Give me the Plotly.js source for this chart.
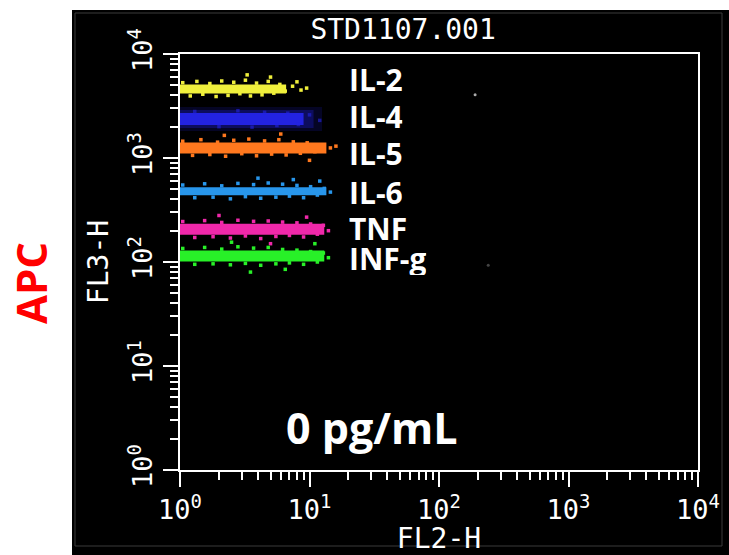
<!DOCTYPE html>
<html>
<head>
<meta charset="utf-8">
<script src="https://cdn.plot.ly/plotly-3.0.1.min.js"></script>
<style>html,body{margin:0;padding:0;background:#fff;}#chart{width:729px;height:555px;}</style>
</head>
<body>
<div id="chart"></div>
<script>
// ---- data ----
var cytokines = ['IL-2', 'IL-4', 'IL-5', 'IL-6', 'TNF', 'INF-g'];
var bandCenter = [4600, 2370, 1250, 480, 207, 114];
var bandStart = [1, 1, 1, 1, 1, 1];
var bandEnd = [6.6, 9.0, 13.5, 13.5, 13, 13];
var blueFadeEnd = 12.5;

var dotsX = [
  [1.05,1.2,1.35,1.5,1.7,1.9,2.1,2.35,2.6,2.9,3.2,3.5,3.9,4.3,4.8,5.3,5.9,6.5,7.4,8.6,3.3,5.0,8.0,9.5],
  [1.3,2.0,2.8,3.6,4.5,5.6,6.8,8.2,10,12],
  [1.05,1.25,1.45,1.7,1.95,2.25,2.6,3.0,3.4,3.9,4.5,5.1,5.8,6.6,7.5,8.5,9.6,11,12.5,14.5,2.2,6.0,10,16],
  [1.05,1.3,1.55,1.8,2.1,2.45,2.8,3.2,3.7,4.2,4.8,5.5,6.2,7.0,8.0,9.0,10.2,11.5,13,14.5,4.0,7.5,12],
  [1.05,1.3,1.55,1.8,2.1,2.45,2.8,3.2,3.7,4.2,4.8,5.5,6.2,7.0,8.0,9.0,10.2,11.5,12.8,14,2.0,5.0,9.5],
  [1.05,1.3,1.55,1.8,2.1,2.45,2.8,3.2,3.7,4.2,4.8,5.5,6.2,7.0,8.0,9.0,10.2,11.5,12.8,14,2.5,6.5,11,3.5]
];
var dotsY = [
  [5300,3950,5450,4100,5200,3900,5500,4000,5350,4150,5600,3950,5250,4050,5450,4200,5100,4400,4900,4500,6300,6000,5400,4700],
  [2800,2000,2850,1980,2750,2050,2700,2100,2600,2300],
  [1450,1060,1500,1080,1420,1040,1480,1100,1520,1050,1460,1090,1500,1070,1430,1110,1400,1150,1330,1250,1650,1700,950,1300],
  [550,415,565,420,540,405,570,425,555,410,575,420,560,430,545,415,530,440,510,470,640,620,600],
  [245,172,250,175,240,170,252,178,246,168,248,176,242,180,238,174,232,185,225,200,280,150,270],
  [135,95,138,96,133,94,140,97,136,93,138,96,132,98,130,95,126,100,122,110,155,85,150,80]
];
var strayX = [190, 240];
var strayY = [4060, 93];

var tickVals = [1, 10, 100, 1000, 10000];
var tickText = ['10<sup>0</sup>', '10<sup>1</sup>', '10<sup>2</sup>', '10<sup>3</sup>', '10<sup>4</sup>'];
var chartTitle = 'STD1107.001';
var xTitle = 'FL2-H';
var yTitle = 'FL3-H';
var concLabel = '0 pg/mL';
var channelLabel = 'APC';

// ---- styles ----
var bandColors = ['rgb(240,240,60)', 'rgb(35,35,225)', 'rgb(255,120,30)', 'rgb(40,150,235)', 'rgb(240,40,170)', 'rgb(40,240,40)'];
var coreWidth = [9, 12, 11, 8, 11, 11];
var labelY = [0.940, 0.851, 0.762, 0.668, 0.582, 0.510];

var minorVals = [];
for (var d = 0; d < 4; d++) {
  for (var k = 2; k <= 9; k++) minorVals.push(k * Math.pow(10, d));
}

var traces = [];
// blue band soft glow
traces.push({x: [bandStart[1], blueFadeEnd], y: [bandCenter[1], bandCenter[1]], mode: 'lines',
  line: {color: 'rgba(25,25,170,0.22)', width: 24}, hoverinfo: 'skip', showlegend: false});
traces.push({x: [bandStart[1], (bandEnd[1] + blueFadeEnd) / 2], y: [bandCenter[1], bandCenter[1]], mode: 'lines',
  line: {color: 'rgba(30,30,200,0.35)', width: 18}, hoverinfo: 'skip', showlegend: false});
for (var i = 0; i < cytokines.length; i++) {
  traces.push({x: [bandStart[i], bandEnd[i]], y: [bandCenter[i], bandCenter[i]], mode: 'lines',
    line: {color: bandColors[i], width: coreWidth[i]}, name: cytokines[i], showlegend: false});
  traces.push({x: dotsX[i], y: dotsY[i], mode: 'markers',
    marker: {color: bandColors[i], size: 3.5, symbol: 'square', opacity: i === 1 ? 0.6 : 1}, name: cytokines[i], showlegend: false});
}
traces.push({x: strayX, y: strayY, mode: 'markers', marker: {color: ['#aaa', '#444'], size: 3}, showlegend: false});

var annotations = [];
for (var j = 0; j < cytokines.length; j++) {
  annotations.push({text: cytokines[j], xref: 'paper', yref: 'paper', x: 0.322, y: labelY[j],
    xanchor: 'left', yanchor: 'middle', showarrow: false, height: 34,
    font: {family: 'Open Sans', size: 30, color: '#fff', weight: 'bold'}});
}
annotations.push({text: concLabel, xref: 'paper', yref: 'paper', x: 0.371, y: 0.101,
  xanchor: 'center', yanchor: 'middle', showarrow: false,
  font: {family: 'Open Sans', size: 43, color: '#fff', weight: 'bold'}});
annotations.push({text: channelLabel, xref: 'paper', yref: 'paper', x: -0.2896, y: 0.4495,
  xanchor: 'center', yanchor: 'middle', showarrow: false, textangle: -90,
  font: {family: 'Open Sans', size: 42, color: '#ff0000', weight: 'bold'}});

var monoFont = {family: 'DejaVu Sans Mono', size: 27, color: '#fff'};
var axisCommon = {
  type: 'log', range: [0, 4], tickmode: 'array', tickvals: tickVals, ticktext: tickText,
  showgrid: false, zeroline: false, showline: true, linecolor: '#fff', linewidth: 2, mirror: true,
  ticks: 'outside', ticklen: 15, tickwidth: 2, tickcolor: '#fff', tickfont: monoFont,
  minor: {tickmode: 'array', tickvals: minorVals, ticks: 'outside', ticklen: 8, tickwidth: 2, tickcolor: '#fff', showgrid: false},
  fixedrange: true
};
var xaxis = Object.assign({}, axisCommon, {title: {text: xTitle, font: {family: 'DejaVu Sans Mono', size: 28, color: '#fff'}, standoff: 2}});
var yaxis = Object.assign({}, axisCommon, {tickangle: -90, title: {text: yTitle, font: {family: 'DejaVu Sans Mono', size: 28, color: '#fff'}, standoff: 6}});

var layout = {
  width: 729, height: 555,
  margin: {l: 180, r: 31, t: 54, b: 85, pad: 0},
  paper_bgcolor: '#fff', plot_bgcolor: '#000',
  title: {text: chartTitle, font: {family: 'DejaVu Sans Mono', size: 28, color: '#fff'},
    xref: 'container', yref: 'container', x: 0.553, y: 0.947, xanchor: 'center', yanchor: 'middle'},
  xaxis: xaxis, yaxis: yaxis,
  showlegend: false,
  annotations: annotations,
  shapes: [
    {type: 'rect', xref: 'paper', yref: 'paper', x0: (72 - 180) / 518, x1: (729 - 180) / 518,
      y0: (470 - 555) / 416, y1: (470 - 10) / 416, fillcolor: '#000', line: {width: 0}, layer: 'below'},
    {type: 'rect', xref: 'paper', yref: 'paper', x0: (75 - 180) / 518, x1: (722 - 180) / 518,
      y0: (470 - 546) / 416, y1: (470 - 13) / 416, fillcolor: 'rgba(0,0,0,0)', line: {width: 1, color: '#3a3a3a'}, layer: 'below'}
  ]
};

Plotly.newPlot('chart', traces, layout, {displayModeBar: false, staticPlot: true});
</script>
</body>
</html>
